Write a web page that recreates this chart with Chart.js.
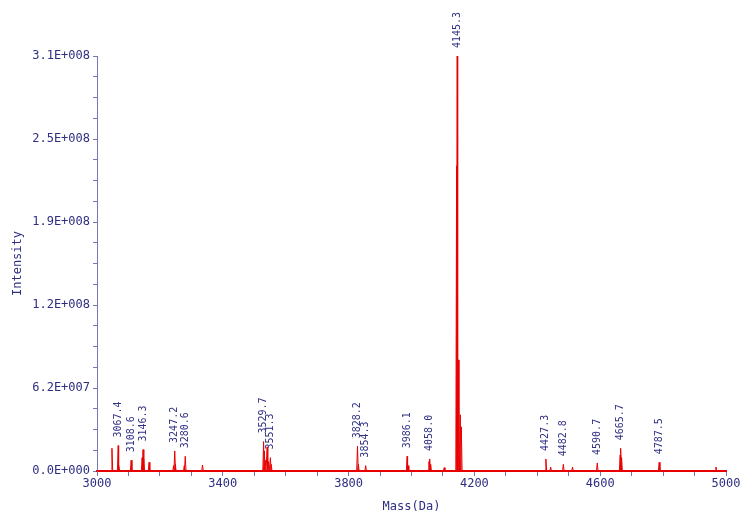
<!DOCTYPE html>
<html lang="en">
<head>
    <meta charset="UTF-8">
    <title>Mass Spectrum</title>
    <script src="https://cdn.jsdelivr.net/npm/chart.js"></script>
    <style>
        body { margin: 0; background: #fff; }
        #wrap { width: 746px; height: 524px; }
    </style>
</head>
<body>
    <div id="wrap"><canvas id="specChart"></canvas></div>

    <script>
        // peaks (mass in Da, intensity in counts)
        const peakMass = [
            3047.5, 3067.4, 3069.5, 3108.6, 3143.5, 3146.3, 3148.5, 3165.5,
            3243.5, 3247.2, 3249.0, 3277.5, 3280.6, 3335.5,
            3529.7, 3532.0, 3535.0, 3541.0, 3545.0, 3551.3, 3554.0,
            3828.2, 3831.0, 3854.3, 3986.1, 3989.0, 4055.5, 4058.0, 4061.0, 4104.0,
            4143.4, 4145.3, 4148.5, 4155.2, 4158.4,
            4427.3, 4442.5, 4482.8, 4512.0, 4590.7,
            4663.5, 4665.7, 4668.0, 4787.5, 4968.0
        ];
        const peakHeight = [
            1.7e7, 1.9e7, 5.0e6, 8.0e6, 1.0e7, 1.6e7, 9.0e6, 6.5e6,
            4.0e6, 1.5e7, 5.0e6, 4.0e6, 1.1e7, 4.5e6,
            2.2e7, 1.5e7, 8.0e6, 1.8e7, 7.0e6, 1.0e7, 5.0e6,
            1.85e7, 5.0e6, 4.0e6, 1.1e7, 4.0e6, 7.0e6, 9.0e6, 5.0e6, 2.5e6,
            2.28e8, 3.1e8, 8.3e7, 4.2e7, 3.3e7,
            9.0e6, 3.0e6, 5.0e6, 3.0e6, 6.0e6,
            1.2e7, 1.7e7, 1.0e7, 6.5e6, 3.0e6
        ];
        // peaks that carry a mass label
        const labelMass = [
            3067.4, 3108.6, 3146.3, 3247.2, 3280.6, 3529.7, 3551.3,
            3828.2, 3854.3, 3986.1, 4058.0, 4145.3,
            4427.3, 4482.8, 4590.7, 4665.7, 4787.5
        ];

        const massMin = 3000, massMax = 5000;
        const intMax = 3.1e8;
        const halfWidth = 2.5;

        const textColor = '#2e2e82';
        const axisColor = '#7878b0';
        const traceColor = 'rgb(232, 0, 0)';
        const monoFont = '"DejaVu Sans Mono", monospace';

        // build the trace: narrow triangles on a zero baseline
        function buildTrace() {
            const pts = [{ x: massMin, y: 0 }];
            const order = peakMass.map((m, i) => i).sort((a, b) => peakMass[a] - peakMass[b]);
            order.forEach(i => {
                pts.push({ x: peakMass[i] - halfWidth, y: 0 });
                pts.push({ x: peakMass[i], y: peakHeight[i] });
                pts.push({ x: peakMass[i] + halfWidth, y: 0 });
            });
            pts.push({ x: massMax, y: 0 });
            return pts;
        }

        function sciLabel(v) {
            if (v === 0) return '0.0E+000';
            const exp = Math.floor(Math.log10(v));
            const mant = v / Math.pow(10, exp);
            return mant.toFixed(1) + 'E+' + String(exp).padStart(3, '0');
        }

        const peakLabels = {
            id: 'peakLabels',
            afterDatasetsDraw(chart) {
                const { ctx, scales } = chart;
                ctx.save();
                ctx.fillStyle = textColor;
                ctx.font = '10px ' + monoFont;
                ctx.textAlign = 'left';
                ctx.textBaseline = 'middle';
                labelMass.forEach(m => {
                    const idx = peakMass.indexOf(m);
                    const x = scales.x.getPixelForValue(m);
                    const y = scales.y.getPixelForValue(peakHeight[idx]) - 8;
                    ctx.save();
                    ctx.translate(x, y);
                    ctx.rotate(-Math.PI / 2);
                    ctx.fillText(m.toFixed(1), 0, 0);
                    ctx.restore();
                });
                ctx.restore();
            }
        };

        function initChart() {
            const ctx = document.getElementById('specChart').getContext('2d');
            new Chart(ctx, {
                type: 'line',
                data: {
                    datasets: [{
                        data: buildTrace(),
                        borderColor: traceColor,
                        borderWidth: 1,
                        pointRadius: 0,
                        tension: 0,
                        fill: false,
                        clip: false
                    }]
                },
                options: {
                    responsive: true,
                    maintainAspectRatio: false,
                    animation: false,
                    layout: { padding: { top: 56, right: 20, bottom: 0, left: 0 } },
                    plugins: {
                        legend: { display: false },
                        tooltip: { enabled: false }
                    },
                    scales: {
                        x: {
                            type: 'linear',
                            min: massMin,
                            max: massMax,
                            afterFit: s => { s.height = 53; },
                            border: { color: traceColor, width: 2 },
                            grid: { drawOnChartArea: false, tickLength: 5, color: axisColor },
                            ticks: {
                                stepSize: 100,
                                autoSkip: false,
                                maxRotation: 0,
                                padding: 1,
                                color: textColor,
                                font: { family: monoFont, size: 12 },
                                callback: v => ((v - massMin) % 400 === 0 ? String(v) : '')
                            },
                            title: {
                                display: true,
                                text: 'Mass(Da)',
                                color: textColor,
                                font: { family: monoFont, size: 12 },
                                padding: { top: 0, bottom: 10 }
                            }
                        },
                        y: {
                            min: 0,
                            max: intMax,
                            afterFit: s => { s.width = 97; },
                            border: { color: axisColor, width: 1 },
                            grid: { drawOnChartArea: false, tickLength: 4, color: axisColor },
                            ticks: {
                                stepSize: 1.55e7,
                                autoSkip: false,
                                padding: 3,
                                color: textColor,
                                font: { family: monoFont, size: 12 },
                                callback: v => (Math.round(v / 1.55e7) % 4 === 0 ? sciLabel(v) : '')
                            },
                            title: {
                                display: true,
                                text: 'Intensity',
                                color: textColor,
                                font: { family: monoFont, size: 12 },
                                padding: { top: 11, bottom: 0 }
                            }
                        }
                    }
                },
                plugins: [peakLabels]
            });
        }

        document.addEventListener('DOMContentLoaded', initChart);
    </script>
</body>
</html>
